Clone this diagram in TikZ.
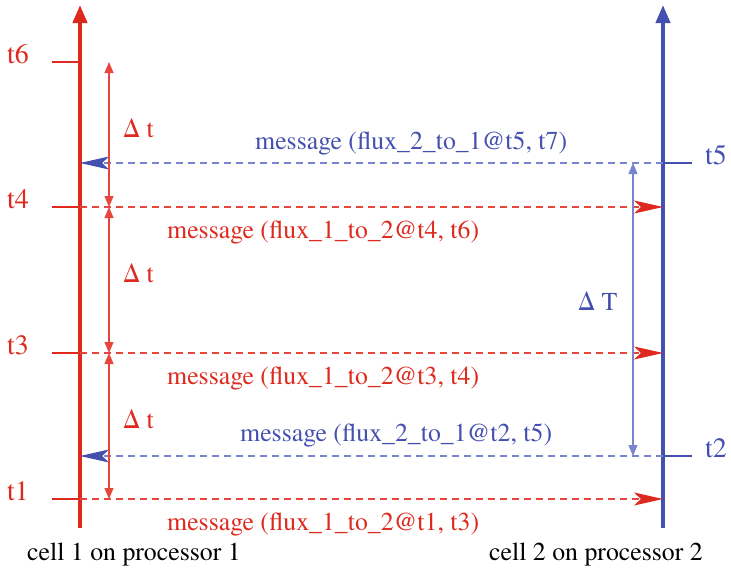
\documentclass[tikz,border=0pt]{standalone}
\usepackage{fontspec}
\setmainfont{texgyretermes}[Extension=.otf,UprightFont=*-regular]
\usetikzlibrary{arrows.meta}
\definecolor{pred}{RGB}{222,42,30}
\definecolor{lred}{RGB}{230,70,60}
\definecolor{pblue}{RGB}{68,80,176}
\definecolor{lblue}{RGB}{120,132,205}
\tikzstyle{axis}=[line width=4pt,-{Triangle[length=18pt,width=14pt]}]
\tikzstyle{tick}=[line width=2pt]
\tikzstyle{msg}=[line width=1.15pt,dash pattern=on 7pt off 5pt]
\tikzstyle{redtip}=[-{Stealth[length=29pt,width=13pt,inset=7pt,color=pred]}]
\tikzstyle{bluetip}=[-{Stealth[length=29pt,width=13pt,inset=7pt,color=pblue]}]
\tikzstyle{span}=[line width=1.15pt,{Triangle[length=11pt,width=9pt]}-{Triangle[length=11pt,width=9pt]}]
\tikzstyle{lbl}=[inner sep=0pt,anchor=base west,font=\fontsize{25.8}{30}\selectfont]
\tikzstyle{tlbl}=[inner sep=0pt,anchor=base west,font=\fontsize{28}{32}\selectfont]

\begin{document}
\begin{tikzpicture}[x=1pt,y=-1pt]
\useasboundingbox (0,0) rectangle (731,570);

\coordinate (c1bot) at (80,528);
\coordinate (c1top) at (80,5);
\coordinate (c2bot) at (663,528);
\coordinate (c2top) at (663,5);

\coordinate (r6) at (80,62);
\coordinate (r4) at (80,207);
\coordinate (r3) at (80,353);
\coordinate (r1) at (80,499);
\coordinate (r6l) at (52,62);
\coordinate (r4l) at (52,207);
\coordinate (r3l) at (52,353);
\coordinate (r1l) at (52,499);
\coordinate (b5) at (663,163);
\coordinate (b2) at (663,456);
\coordinate (b5r) at (692,163);
\coordinate (b2r) at (692,456);
\coordinate (r5) at (80,163);
\coordinate (r2) at (80,456);
\coordinate (b4) at (663,207);
\coordinate (b3) at (663,353);
\coordinate (b1) at (663,499);

\coordinate (d6) at (109,62);
\coordinate (d4) at (109,207);
\coordinate (d3) at (109,353);
\coordinate (d1) at (109,499);
\coordinate (e5) at (633,163);
\coordinate (e2) at (633,456);

% time axes
\draw[axis, pred] (c1bot) -- (c1top);
\draw[axis, pblue] (c2bot) -- (c2top);

\draw[tick, pred] (r6l) -- (r6);
\draw[tick, pred] (r4l) -- (r4);
\draw[tick, pred] (r3l) -- (r3);
\draw[tick, pred] (r1l) -- (r1);
\draw[tick, pblue] (b5) -- (b5r);
\draw[tick, pblue] (b2) -- (b2r);

\node[tlbl, text=pred] (t6) at (7,63) {t6};
\node[tlbl, text=pred] (t4) at (7,208) {t4};
\node[tlbl, text=pred] (t3) at (7,354) {t3};
\node[tlbl, text=pred] (t1) at (7,500) {t1};
\node[tlbl, text=pblue] (t5) at (705,164) {t5};
\node[tlbl, text=pblue] (t2) at (705,457) {t2};

% messages
\draw[msg, bluetip, lblue] (b5) -- (r5);
\draw[msg, redtip, lred] (r4) -- (b4);
\draw[msg, redtip, lred] (r3) -- (b3);
\draw[msg, bluetip, lblue] (b2) -- (r2);
\draw[msg, redtip, lred] (r1) -- (b1);

\node[lbl, text=pblue] (m5) at (255,149) {message (flux\_2\_to\_1@t5, t7)};
\node[lbl, text=pred] (m4) at (167,238) {message (flux\_1\_to\_2@t4, t6)};
\node[lbl, text=pred] (m3) at (167,384) {message (flux\_1\_to\_2@t3, t4)};
\node[lbl, text=pblue] (m2) at (240,441) {message (flux\_2\_to\_1@t2, t5)};
\node[lbl, text=pred] (m1) at (167,530) {message (flux\_1\_to\_2@t1, t3)};

% intervals
\draw[span, lred] (d4) -- (d6);
\draw[span, lred] (d3) -- (d4);
\draw[span, lred] (d1) -- (d3);
\draw[span, lblue] (e2) -- (e5);

\node[lbl, text=pred] (dt1) at (123,137) {Δ t};
\node[lbl, text=pred] (dt2) at (123,282) {Δ t};
\node[lbl, text=pred] (dt3) at (123,428) {Δ t};
\node[lbl, text=pblue] (dT) at (578,310) {Δ T};

\node[lbl] (cell1) at (27,560) {cell 1 on processor 1};
\node[lbl] (cell2) at (489,560) {cell 2 on processor 2};

\end{tikzpicture}
\end{document}
